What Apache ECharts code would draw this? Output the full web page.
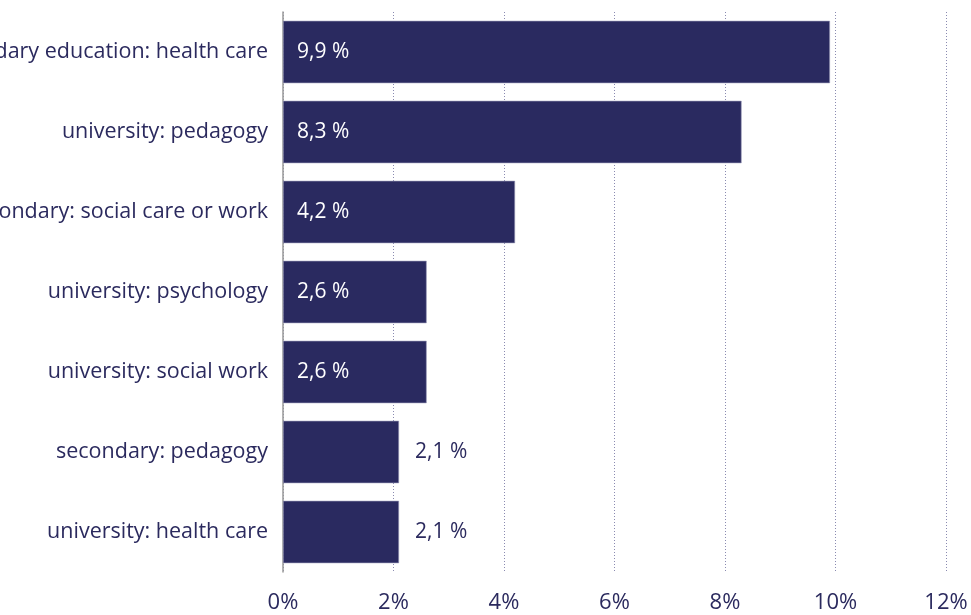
<!DOCTYPE html>
<html><head><meta charset="utf-8">
<script src="https://cdn.jsdelivr.net/npm/echarts@6/dist/echarts.min.js"></script>
<style>html,body{margin:0;padding:0;background:#fff}#c{width:971px;height:615px}</style>
</head><body><div id="c"></div>
<script>
const categories = [
  "post-secondary education: health care",
  "university: pedagogy",
  "post-secondary: social care or work",
  "university: psychology",
  "university: social work",
  "secondary: pedagogy",
  "university: health care"
];
const values = [9.9, 8.3, 4.2, 2.6, 2.6, 2.1, 2.1];
const xTicks = [0, 2, 4, 6, 8, 10, 12];

const navy = '#2a2a60';
const txt = '#2b2a5e';
const chart = echarts.init(document.getElementById('c'), null, {renderer: 'canvas'});
chart.setOption({
  animation: false,
  grid: {left: 283, right: 25, top: 12, bottom: 43, containLabel: false, outerBoundsMode: 'none'},
  xAxis: {
    type: 'value', min: xTicks[0], max: xTicks[xTicks.length - 1], interval: 2,
    axisLine: {show: false}, axisTick: {show: false},
    splitLine: {show: true, lineStyle: {type: [1, 2], color: '#8a8ab0', width: 1}},
    axisLabel: {formatter: v => v + '%', color: txt, fontFamily: 'Open Sans', fontSize: 22, margin: 20}
  },
  yAxis: {
    type: 'category', data: categories, inverse: true,
    axisLine: {show: true, lineStyle: {color: '#999', width: 1.5}},
    axisTick: {show: false},
    axisLabel: {color: txt, fontFamily: 'Open Sans', fontSize: 21.5, margin: 15}
  },
  series: [{
    type: 'bar',
    data: values.map(v => ({
      value: v,
      label: v > 2.3
        ? {position: 'insideLeft', distance: 14, color: '#fff'}
        : {position: 'right', distance: 16, color: txt}
    })),
    barCategoryGap: '22%',
    itemStyle: {color: navy, borderColor: '#9a9ab8', borderWidth: 0.6},
    label: {show: true, fontFamily: 'Open Sans', fontSize: 21,
      formatter: p => String(p.value).replace('.', ',') + ' %'}
  }]
});
</script></body></html>
